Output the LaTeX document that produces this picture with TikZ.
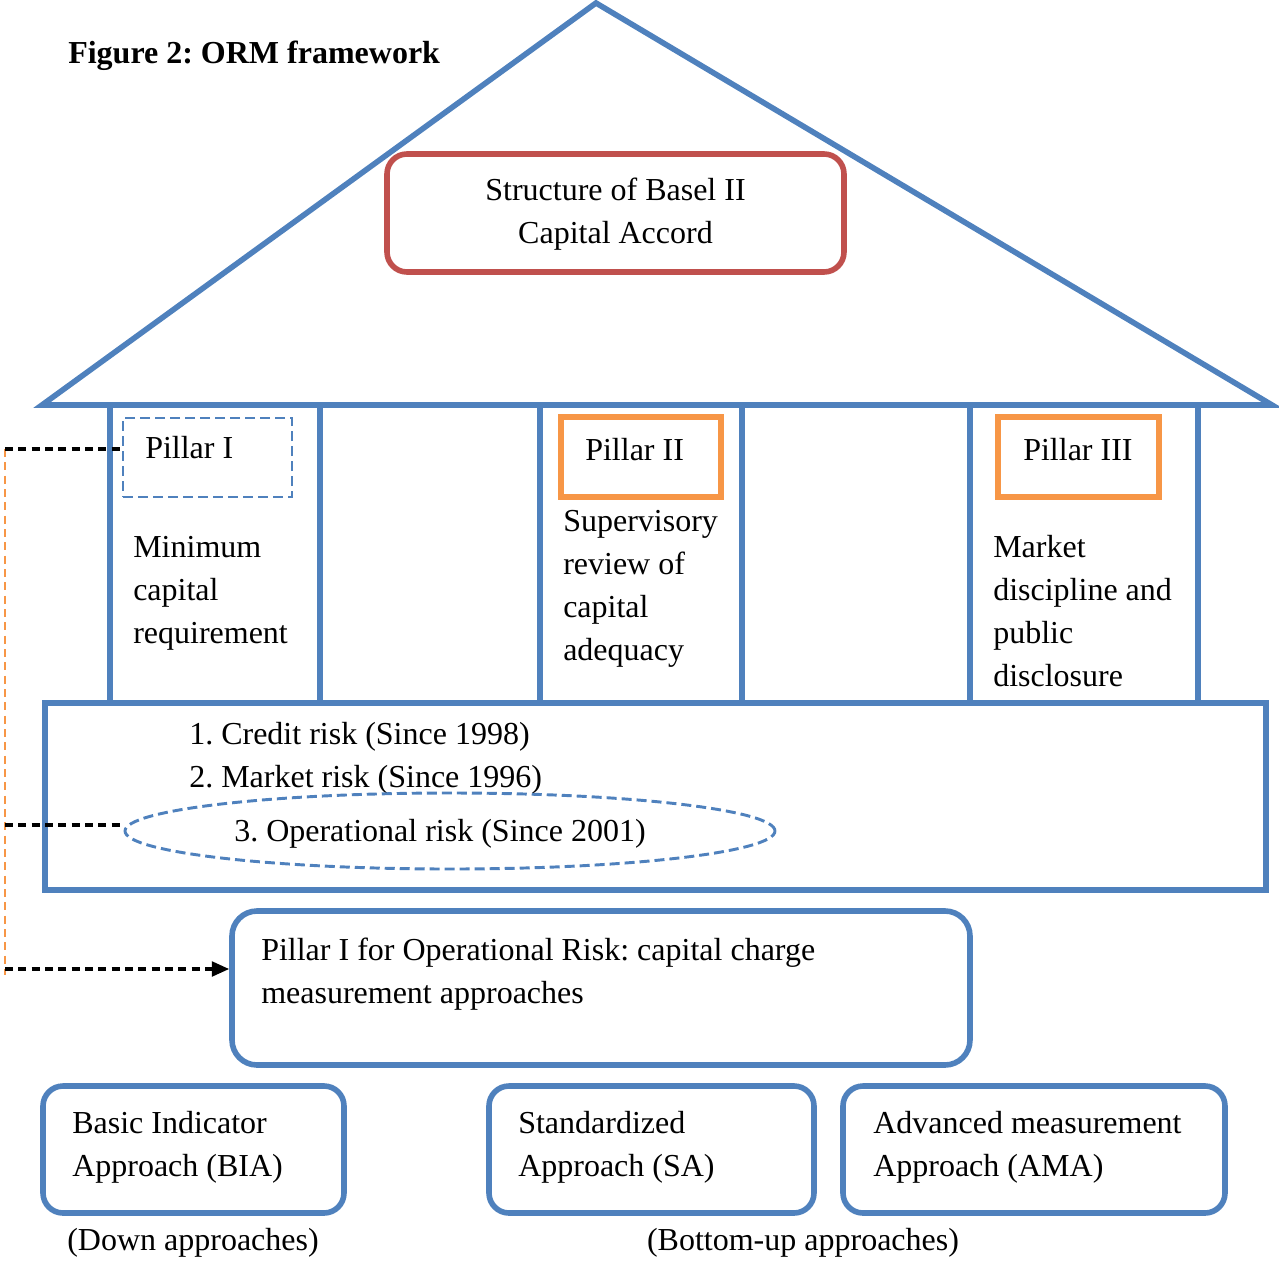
\documentclass[tikz,border=0pt]{standalone}
\usepackage{fontspec}
\setmainfont{Liberation Serif}
\usetikzlibrary{shapes.geometric,arrows.meta}
\definecolor{oblue}{HTML}{4F81BD}
\definecolor{ored}{HTML}{C0504D}
\definecolor{oorange}{HTML}{F79646}
\frenchspacing
\begin{document}
\begin{tikzpicture}[x=0.75pt,y=-0.75pt,
  blueline/.style={draw=oblue,line width=4.2pt},
  bluebox/.style={draw=oblue,line width=4.2pt,rounded corners=15pt,inner sep=0pt},
  orangebox/.style={draw=oorange,line width=4.2pt,inner sep=0pt},
  bluedash/.style={draw=oblue,line width=2.2pt,dash pattern=on 7.5pt off 3.75pt},
  blackdash/.style={draw=black,line width=2.4pt,dash pattern=on 6pt off 4pt},
  orangedash/.style={draw=oorange,line width=2.2pt,dash pattern=on 6pt off 4pt},
  txt/.style={anchor=base west,inner sep=0pt,align=left,font=\fontsize{24}{32.25}\selectfont},
  ctxt/.style={anchor=base,inner sep=0pt,align=center,font=\fontsize{24}{32.25}\selectfont}]
\useasboundingbox (0,0) rectangle (1279,1261);

% roof
\coordinate (apex) at (596,3);
\coordinate (roofL) at (42,405);
\coordinate (roofR) at (1272,405);
\draw[blueline,line join=miter] (roofL) -- (apex) -- (roofR) -- cycle;

% pillars
\draw[blueline] (110,405) rectangle (320,703);
\draw[blueline] (540,405) rectangle (742,703);
\draw[blueline] (970,405) rectangle (1198,703);

% base box
\node[draw=oblue,line width=4.2pt,minimum width=915.75pt,minimum height=140.25pt,inner sep=0pt] (base) at (655.5,796.5) {};

% title
\node[txt,font=\fontsize{24}{32.25}\selectfont\bfseries] (title) at (68,63) {Figure 2: ORM framework};

% red box
\node[draw=ored,line width=4.2pt,rounded corners=15pt,minimum width=342.75pt,minimum height=88.5pt,inner sep=0pt] (basel) at (615.5,213) {};
\node[ctxt] (baseltxt) at (615.5,243) {Structure of Basel II\\Capital Accord};

% pillar headers
\node[bluedash,minimum width=126.75pt,minimum height=59.25pt,inner sep=0pt] (p1box) at (207.5,457.5) {};
\node[txt] (p1txt) at (145,458) {Pillar I};
\node[orangebox,minimum width=120pt,minimum height=60pt] (p2box) at (641,457) {};
\node[txt] (p2txt) at (585,460) {Pillar II};
\node[orangebox,minimum width=120.75pt,minimum height=60pt] (p3box) at (1078.5,457) {};
\node[txt] (p3txt) at (1023,460) {Pillar III};

% pillar texts (anchored at last baseline)
\node[txt] (p1body) at (133,643) {Minimum\\capital\\requirement};
\node[txt] (p2body) at (563,660) {Supervisory\\review of\\capital\\adequacy};
\node[txt] (p3body) at (993,686) {Market\\discipline and\\public\\disclosure};

% risks
\node[txt] (risks) at (189,787) {1. Credit risk (Since 1998)\\2. Market risk (Since 1996)};
\node[bluedash,ellipse,minimum width=487.5pt,minimum height=57pt,inner sep=0pt] (opell) at (450,831) {};
\node[txt] (optxt) at (234,841) {3. Operational risk (Since 2001)};

% pillar I for op risk
\node[bluebox,rounded corners=18.75pt,minimum width=553.5pt,minimum height=115.5pt] (oprbox) at (601,988) {};
\node[txt] (oprtxt) at (261,1003) {Pillar I for Operational Risk: capital charge\\measurement approaches};

% approaches
\node[bluebox,minimum width=225.75pt,minimum height=95.25pt] (bia) at (193.5,1149.5) {};
\node[txt] (biatxt) at (72,1176) {Basic Indicator\\Approach (BIA)};
\node[bluebox,minimum width=243.75pt,minimum height=95.25pt] (sa) at (651.5,1149.5) {};
\node[txt] (satxt) at (518,1176) {Standardized\\Approach (SA)};
\node[bluebox,minimum width=286.5pt,minimum height=95.25pt] (ama) at (1034,1149.5) {};
\node[txt] (amatxt) at (873,1176) {Advanced measurement\\Approach (AMA)};

\node[ctxt] (down) at (193,1250) {(Down approaches)};
\node[ctxt] (bottomup) at (803,1250) {(Bottom-up approaches)};

% connectors
\coordinate (c1) at (5,449);
\coordinate (c2) at (5,825);
\coordinate (c3) at (5,969);
\coordinate (c4) at (5,975);
\draw[orangedash] (c1) -- (c4);
\draw[blackdash] (c1) -- (c1 -| p1box.west);
\draw[blackdash] (c2) -- (c2 -| opell.west);
\draw[blackdash,-{Triangle[length=13pt,width=11pt]}] (c3) -- (c3 -| oprbox.west);
\end{tikzpicture}
\end{document}
